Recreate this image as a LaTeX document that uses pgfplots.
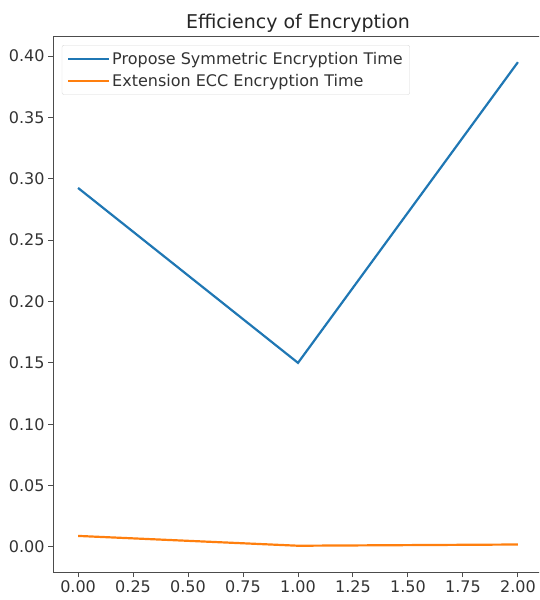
\documentclass[border=0pt]{standalone}
\usepackage{pgfplots}
\pgfplotsset{compat=1.18}
\usepackage{fontspec}
\setmainfont{DejaVu Sans}
\definecolor{mplblue}{HTML}{1F77B4}
\definecolor{mplorange}{HTML}{FF7F0E}
\begin{document}
\begin{tikzpicture}
\path[use as bounding box] (0pt,0pt) rectangle (539pt,600pt);
\begin{scope}
\clip (0pt,0pt) rectangle (539pt,600pt);
\begin{axis}[
  at={(53pt,28pt)}, anchor=south west,
  width=490pt, height=535pt, scale only axis,
  xmin=-0.114, xmax=2.114, ymin=-0.0204, ymax=0.4155,
  xtick={0,0.25,...,2}, ytick={0,0.05,...,0.4},
  xticklabel style={/pgf/number format/.cd,fixed,fixed zerofill,precision=2},
  yticklabel style={/pgf/number format/.cd,fixed,fixed zerofill,precision=2},
  /pgf/number format/assume math mode=true,
  tick label style={font=\fontsize{16}{18}\selectfont, text=black!80},
  tick align=outside, tick pos=left,
  major tick length=5pt,
  every tick/.style={black!70, line width=1pt},
  axis line style={black!70, line width=1pt},
  title={Efficiency of Encryption},
  title style={font=\fontsize{19}{21}\selectfont, text=black!85, yshift=-5pt},
  legend style={font=\fontsize{16}{18}\selectfont, draw=black!15, rounded corners=2pt, at={(0.018,0.985)}, anchor=north west, row sep=4pt, inner sep=5pt, text=black!80},
  legend cell align=left,
  legend image code/.code={\draw[#1, line width=2pt] (0pt,0pt) -- (33pt,0pt); \path (0pt,0pt) -- (41pt,0pt);},
]
\addplot[mplblue, line width=2.2pt] coordinates {(0,0.2925) (1,0.150) (2,0.395)};
\addlegendentry{Propose Symmetric Encryption Time}
\addplot[mplorange, line width=2.2pt] coordinates {(0,0.009) (1,0.001) (2,0.002)};
\addlegendentry{Extension ECC Encryption Time}
\end{axis}
\end{scope}
\end{tikzpicture}
\end{document}
